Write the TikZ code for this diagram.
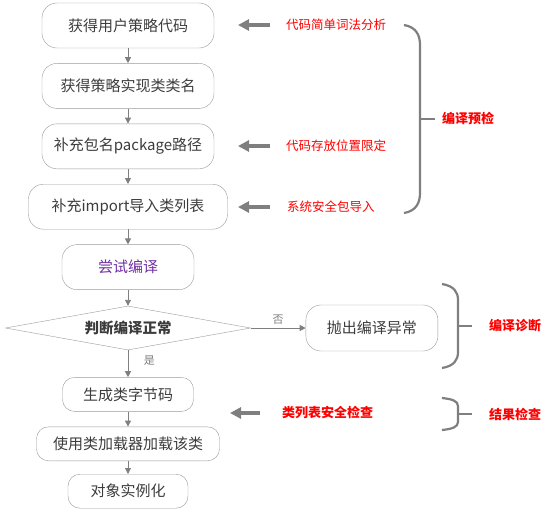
\documentclass[tikz,border=0pt]{standalone}
\usepackage{fontspec}
\setmainfont{Noto Sans CJK SC}
\usepackage{xcolor}
\usetikzlibrary{arrows.meta,positioning,shapes.geometric}

\definecolor{boxline}{HTML}{9A9A9A}
\definecolor{boxtext}{HTML}{3C3C3C}
\definecolor{flowgray}{HTML}{7F7F7F}
\definecolor{trypurple}{HTML}{7030A0}

\begin{document}
\begin{tikzpicture}[
  x=1pt, y=-1pt,
  node distance=15pt,
  box/.style={rectangle, draw=boxline, rounded corners=15pt, align=center, minimum height=45pt, text=boxtext, font=\fontsize{15}{17}\selectfont},
  lowbox/.style={box, minimum height=34pt, rounded corners=12pt},
  check/.style={diamond, draw=boxline, aspect=5.5, inner sep=0pt, minimum width=245pt, minimum height=44pt, text=boxtext, font=\bfseries\fontsize{14.5}{17}\selectfont},
  arrow/.style={-{Triangle[length=6pt,width=6pt]}, draw=flowgray, line width=0.9pt},
  lbl/.style={text=flowgray, font=\fontsize{11}{13}\selectfont},
  hint/.style={-{Triangle[length=11pt,width=11pt]}, draw=flowgray, line width=4.5pt},
  note/.style={anchor=west, inner sep=0pt, text=red, font=\fontsize{12.5}{14}\selectfont},
  tag/.style={note, font=\bfseries\fontsize{13}{15}\selectfont},
  brace/.style={draw=flowgray, line width=2.2pt}
]
\useasboundingbox (0,0) rectangle (548,512);

% main flow
\node[box, minimum width=172pt] (code) at (128,25.5) {获得用户策略代码};
\node[box, minimum width=172pt, below=of code] (cls) {获得策略实现类类名};
\node[box, minimum width=172pt, below=of cls] (pkg) {补充包名package路径};
\node[box, minimum width=199pt, below=of pkg] (imp) {补充import导入类列表};
\node[box, minimum width=132pt, text=trypurple, below=of imp] (try) {尝试编译};
\node[check, below=16pt of try] (ok) {判断编译正常};
\node[box, minimum width=132pt, minimum height=46pt, right=55pt of ok] (err) {抛出编译异常};
\node[lowbox, minimum width=131pt, below=27pt of ok] (byte) {生成类字节码};
\node[lowbox, minimum width=183pt, below=of byte] (load) {使用类加载器加载该类};
\node[lowbox, minimum width=120pt, below=13pt of load] (inst) {对象实例化};

\draw[arrow] (code) -- (cls);
\draw[arrow] (cls) -- (pkg);
\draw[arrow] (pkg) -- (imp);
\draw[arrow] (imp) -- (try);
\draw[arrow] (try) -- (ok);
\draw[arrow] (ok) -- node[lbl, above] {否} (err);
\draw[arrow] (ok) -- node[lbl, right=12pt, pos=0.4] {是} (byte);
\draw[arrow] (byte) -- (load);
\draw[arrow] (load) -- (inst);

% side notes
\node[note] (lex) at (286,25) {代码简单词法分析};
\node[note] (store) at (286,146) {代码存放位置限定};
\node[note] (sys) at (287,207) {系统安全包导入};
\node[tag] (safe) at (282,413) {类列表安全检查};

\draw[hint] ([xshift=-16pt]lex.west) -- ([xshift=-48pt]lex.west);
\draw[hint] ([xshift=-16pt]store.west) -- ([xshift=-48pt]store.west);
\draw[hint] ([xshift=-17pt]sys.west) -- ([xshift=-49pt]sys.west);
\draw[hint] ([xshift=-22pt]safe.west) -- ([xshift=-52pt]safe.west);

% braces
\draw[brace] (404,25) .. controls (416,27) and (420,35) .. (420,45) -- (420,193)
  .. controls (420,203) and (416,211) .. (404,213);
\draw[brace] (420,119) -- (435,119);
\node[tag] (pre) at (442,119) {编译预检};

\draw[brace] (442,284) .. controls (454,286) and (458,292) .. (458,300) -- (458,352)
  .. controls (458,360) and (454,366) .. (442,368);
\draw[brace] (458,326) -- (472,326);
\node[tag] (diag) at (489,326) {编译诊断};

\draw[brace] (442,398) .. controls (452,399) and (458,401) .. (458,406) -- (458,422)
  .. controls (458,427) and (452,429) .. (442,430);
\draw[brace] (458,414) -- (472,414);
\node[tag] (res) at (489,414) {结果检查};
\end{tikzpicture}
\end{document}
